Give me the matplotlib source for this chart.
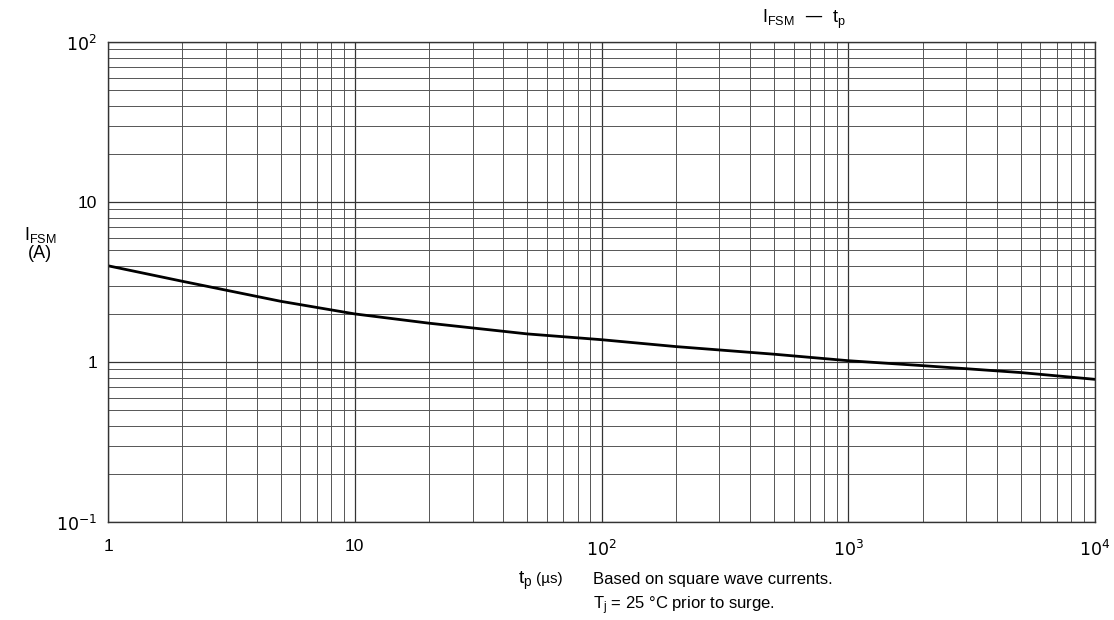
import numpy as np
import matplotlib.pyplot as plt
from matplotlib.ticker import FixedLocator, LogLocator, NullFormatter

plt.rcParams['font.family'] = ['Liberation Sans', 'DejaVu Sans']

# IFSM vs tp
tp_us = [1, 2, 5, 10, 20, 50, 100, 200, 500, 1000, 2000, 5000, 10000]
ifsm_a = [4.0, 3.2, 2.4, 2.0, 1.75, 1.5, 1.38, 1.25, 1.12, 1.02, 0.95, 0.86, 0.78]

x_ticks = [1, 10, 100, 1000, 10000]
x_labels = ['1', '10', '$10^2$', '$10^3$', '$10^4$']
y_ticks = [0.1, 1, 10, 100]
y_labels = ['$10^{-1}$', '1', '10', '$10^2$']

fig = plt.figure(figsize=(11.14, 6.2), dpi=100)
ax = fig.add_axes([0.097, 0.158, 0.886, 0.774])

ax.set_xscale('log')
ax.set_yscale('log')
ax.set_xlim(1, 1e4)
ax.set_ylim(0.1, 100)

ax.plot(tp_us, ifsm_a, color='black', lw=2)

ax.xaxis.set_major_locator(FixedLocator(x_ticks))
ax.set_xticklabels(x_labels)
ax.yaxis.set_major_locator(FixedLocator(y_ticks))
ax.set_yticklabels(y_labels)
ax.xaxis.set_minor_locator(LogLocator(base=10, subs=np.arange(2, 10)))
ax.yaxis.set_minor_locator(LogLocator(base=10, subs=np.arange(2, 10)))
ax.xaxis.set_minor_formatter(NullFormatter())
ax.yaxis.set_minor_formatter(NullFormatter())

ax.grid(which='major', color='#333333', lw=0.9)
ax.grid(which='minor', color='#555555', lw=0.7)
ax.tick_params(which='both', length=0, labelsize=12.5)
ax.tick_params(axis='x', pad=12)
ax.tick_params(axis='y', pad=8)
for s in ax.spines.values():
    s.set_color('#333333')
    s.set_linewidth(1.0)

fig.text(0.036, 0.608, '$\\mathregular{I_{FSM}}$\n(A)', ha='center', va='center', fontsize=13, linespacing=1.0)
fig.text(0.722, 0.968, '$\\mathregular{I_{FSM}}$  —  $\\mathregular{t_p}$', ha='center', va='center', fontsize=13)
fig.text(0.465, 0.063, '$\\mathregular{t_p}$', ha='left', va='center', fontsize=14)
fig.text(0.481, 0.066, '(µs)', ha='left', va='center', fontsize=11)
fig.text(0.532, 0.066, 'Based on square wave currents.', ha='left', va='center', fontsize=12)
fig.text(0.532, 0.023, '$\\mathregular{T_j}$ = 25 °C prior to surge.', ha='left', va='center', fontsize=12)

fig.savefig('out.png', dpi=100, facecolor='white')
